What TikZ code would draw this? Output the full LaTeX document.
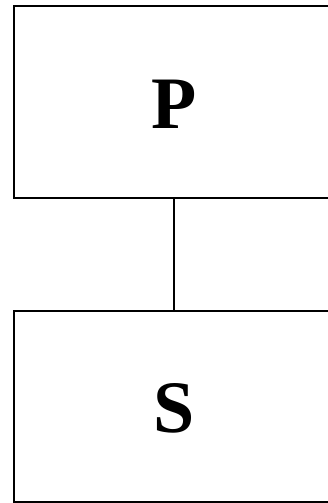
\documentclass[tikz,border=0pt]{standalone}
\usepackage{fontspec}
\setmainfont{Liberation Serif}
\tikzset{
  boxnode/.style={draw=black, line width=2pt, rectangle, minimum width=320pt, minimum height=192pt, inner sep=0pt},
  lbl/.style={font=\bfseries\fontsize{74}{74}\selectfont, inner sep=0pt},
  link/.style={draw=black, line width=2pt}
}
\begin{document}
\begin{tikzpicture}[x=1pt,y=-1pt]
\useasboundingbox (0,0) rectangle (328,503);
\clip (0,0) rectangle (328,503);
\node[boxnode] (p) at (174,102) {};
\node[boxnode, minimum height=191pt] (s) at (174,406.5) {};
\node[lbl] (plbl) at (174,104) {P};
\node[lbl] (slbl) at (174,408) {S};
\draw[link] (p.south) -- (s.north);
\end{tikzpicture}
\end{document}
